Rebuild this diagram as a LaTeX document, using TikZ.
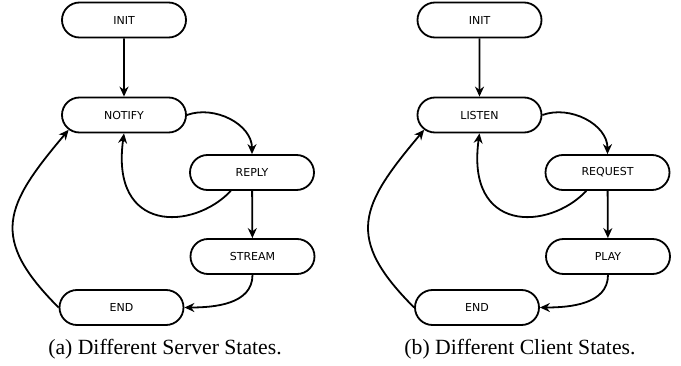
\documentclass[tikz,border=0pt]{standalone}
\usepackage{fontspec}
\setmainfont{Liberation Serif}
\newfontfamily\statefont{DejaVu Sans}
\usetikzlibrary{arrows.meta,shapes.misc}

\tikzset{
  state/.style={rounded rectangle, draw, line width=1.8pt,
    minimum width=124pt, minimum height=35pt, inner sep=0pt,
    font=\statefont\fontsize{11pt}{13pt}\selectfont},
  flow/.style={line width=1.8pt, -{Stealth[length=10pt,width=9pt]}},
  caption/.style={anchor=base, inner sep=0pt,
    font=\fontsize{21.7pt}{24pt}\selectfont}
}

\begin{document}
\begin{tikzpicture}[x=1pt,y=1pt]
\useasboundingbox (0,0) rectangle (681,365);

% (a) server side
\node[state] (sinit)   at (124,345)   {INIT};
\node[state] (snotify) at (124,250)   {NOTIFY};
\node[state] (sreply)  at (252,192.5) {REPLY};
\node[state] (sstream) at (252.5,108.5) {STREAM};
\node[state] (send)    at (121.5,57.5) {END};
\node[caption] (scap) at (165,10.7) {(a) Different Server States.};

\draw[flow] (sinit) -- (snotify);
\draw[flow] (snotify.east) to[out=20,in=90] (sreply.north);
\draw[flow] (sreply.-139) .. controls +(-38,-40) and +(-14,-100) .. (snotify.south);
\draw[flow] (sreply) -- (sstream);
\draw[flow] (sstream.south) to[out=-90,in=0] (send.east);
\draw[flow] (send.west) .. controls +(-70,70) and +(-64,-76) .. (snotify.-165);

% (b) client side
\node[state] (cinit)    at (479.5,345)   {INIT};
\node[state] (clisten)  at (479.5,250)   {LISTEN};
\node[state] (crequest) at (607.5,192.5) {REQUEST};
\node[state] (cplay)    at (608,108.5)   {PLAY};
\node[state] (cend)     at (477,57.5)    {END};
\node[caption] (ccap) at (520,10.7) {(b) Different Client States.};

\draw[flow] (cinit) -- (clisten);
\draw[flow] (clisten.east) to[out=20,in=90] (crequest.north);
\draw[flow] (crequest.-139) .. controls +(-38,-40) and +(-14,-100) .. (clisten.south);
\draw[flow] (crequest) -- (cplay);
\draw[flow] (cplay.south) to[out=-90,in=0] (cend.east);
\draw[flow] (cend.west) .. controls +(-70,70) and +(-64,-76) .. (clisten.-165);
\end{tikzpicture}
\end{document}
